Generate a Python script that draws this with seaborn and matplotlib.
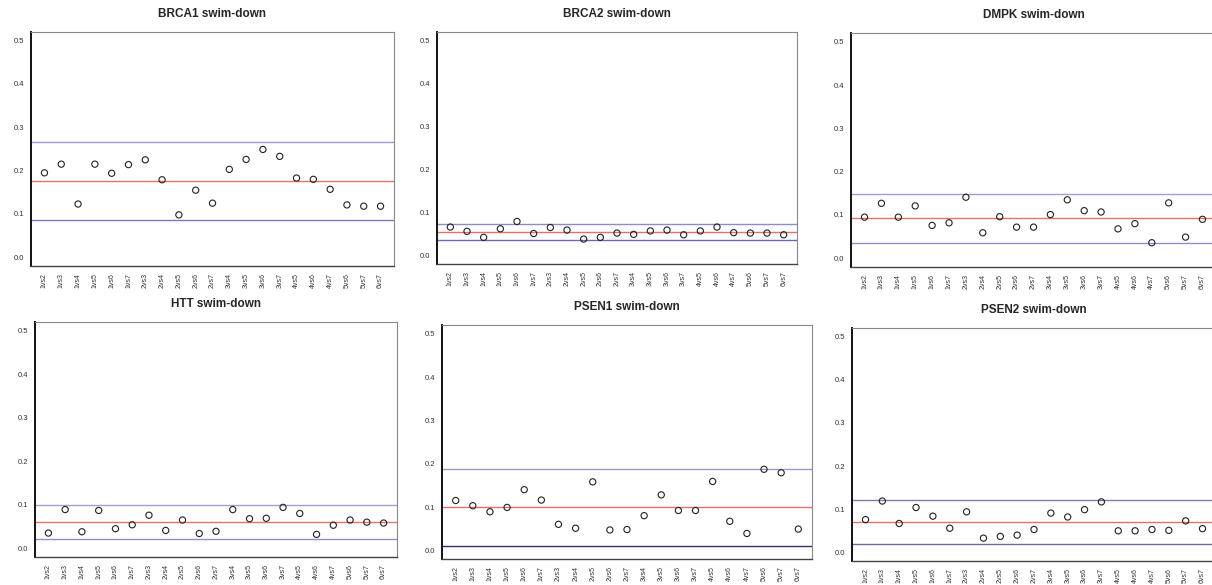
import numpy as np
import pandas as pd
import matplotlib
matplotlib.use("Agg")
import matplotlib.pyplot as plt
import seaborn as sns

# ====== Data ======
pairs = ["1vs2", "1vs3", "1vs4", "1vs5", "1vs6", "1vs7", "2vs3", "2vs4", "2vs5", "2vs6", "2vs7",
         "3vs4", "3vs5", "3vs6", "3vs7", "4vs5", "4vs6", "4vs7", "5vs6", "5vs7", "6vs7"]

genes = ["BRCA1", "BRCA2", "DMPK", "HTT", "PSEN1", "PSEN2"]

brca1 = [0.195, 0.215, 0.123, 0.215, 0.194, 0.214, 0.225, 0.179, 0.098, 0.155, 0.125,
         0.203, 0.226, 0.249, 0.233, 0.183, 0.180, 0.157, 0.121, 0.118, 0.118]
brca2 = [0.066, 0.056, 0.042, 0.062, 0.079, 0.051, 0.065, 0.059, 0.038, 0.042, 0.052,
         0.049, 0.057, 0.059, 0.048, 0.057, 0.066, 0.053, 0.052, 0.052, 0.048]
dmpk = [0.095, 0.127, 0.095, 0.121, 0.076, 0.082, 0.141, 0.059, 0.096, 0.072, 0.072,
        0.101, 0.135, 0.110, 0.107, 0.068, 0.080, 0.036, 0.128, 0.049, 0.090]
htt = [0.035, 0.089, 0.038, 0.087, 0.045, 0.054, 0.076, 0.041, 0.065, 0.034, 0.039,
       0.089, 0.068, 0.069, 0.094, 0.080, 0.032, 0.053, 0.065, 0.060, 0.058]
psen1 = [0.115, 0.103, 0.089, 0.099, 0.140, 0.116, 0.060, 0.051, 0.158, 0.047, 0.048,
         0.080, 0.128, 0.092, 0.092, 0.159, 0.067, 0.039, 0.187, 0.179, 0.049]
psen2 = [0.076, 0.119, 0.067, 0.104, 0.084, 0.056, 0.094, 0.033, 0.037, 0.040, 0.053,
         0.091, 0.082, 0.099, 0.117, 0.050, 0.050, 0.053, 0.051, 0.073, 0.055]

# mean line and the two limit lines per gene
mean_line = [0.177, 0.055, 0.093, 0.061, 0.099, 0.070]
upper_line = [0.267, 0.074, 0.149, 0.099, 0.188, 0.121]
lower_line = [0.087, 0.037, 0.036, 0.022, 0.010, 0.019]

values = [brca1, brca2, dmpk, htt, psen1, psen2]

# ====== Layout (panels were pasted in at slightly different spots) ======
W, H = 1212, 585
boxes = [(31, 32, 394, 266), (437, 32, 797, 264), (851, 33, 1216, 267),
         (35, 322, 397, 557), (442, 325, 812, 559), (852, 328, 1216, 561)]
limit_colors = ["#9c9cd2", "#8c8cc8", "#a0a0d0", "#a0a0d0", "#9a9ac8", "#7c7ca8"]
lower_colors = ["#7a7abc", "#6a6ab0", "#9090c8", "#9090c8", "#2e2e6e", "#6c6c9c"]

sns.set_style("white")
plt.rcParams["font.family"] = ["Liberation Sans", "DejaVu Sans"]

fig = plt.figure(figsize=(W / 100, H / 100), dpi=100)

for i, gene in enumerate(genes):
    x0, y0, x1, y1 = boxes[i]
    ax = fig.add_axes([x0 / W, 1 - y1 / H, (x1 - x0) / W, (y1 - y0) / H])
    df = pd.DataFrame({"pair": pairs, "value": values[i]})

    ax.axhline(upper_line[i], color=limit_colors[i], lw=1.0, zorder=1)
    ax.axhline(lower_line[i], color=lower_colors[i], lw=1.0, zorder=1)
    ax.axhline(mean_line[i], color="#e8706a", lw=1.0, zorder=1)

    sns.scatterplot(data=df, x="pair", y="value", ax=ax, marker="o", s=20,
                    facecolor="none", edgecolor="#222222", linewidth=0.8, zorder=3)

    ax.set_xlim(-0.8, 20.8)
    ax.set_ylim(-0.02, 0.52)
    ax.set_yticks([0.0, 0.1, 0.2, 0.3, 0.4, 0.5])
    ax.set_yticklabels(["0.0", "0.1", "0.2", "0.3", "0.4", "0.5"], fontsize=5.5, color="#333333")
    ax.set_xticks(range(len(pairs)))
    ax.set_xticklabels(pairs, rotation=90, fontsize=5, color="#333333")
    ax.tick_params(axis="both", length=3, width=0.8, color="#333333", pad=2, direction="out")
    ax.set_xlabel("")
    ax.set_ylabel("")
    ax.set_title(f"{gene} swim-down", fontsize=8.5, fontweight="bold", pad=11)

    for side in ["top", "right"]:
        ax.spines[side].set_color("#888888")
        ax.spines[side].set_linewidth(0.8)
    ax.spines["left"].set_color("#111111")
    ax.spines["left"].set_linewidth(1.4)
    ax.spines["bottom"].set_color("#444444")
    ax.spines["bottom"].set_linewidth(1.0)

fig.savefig("out.png", dpi=100)
